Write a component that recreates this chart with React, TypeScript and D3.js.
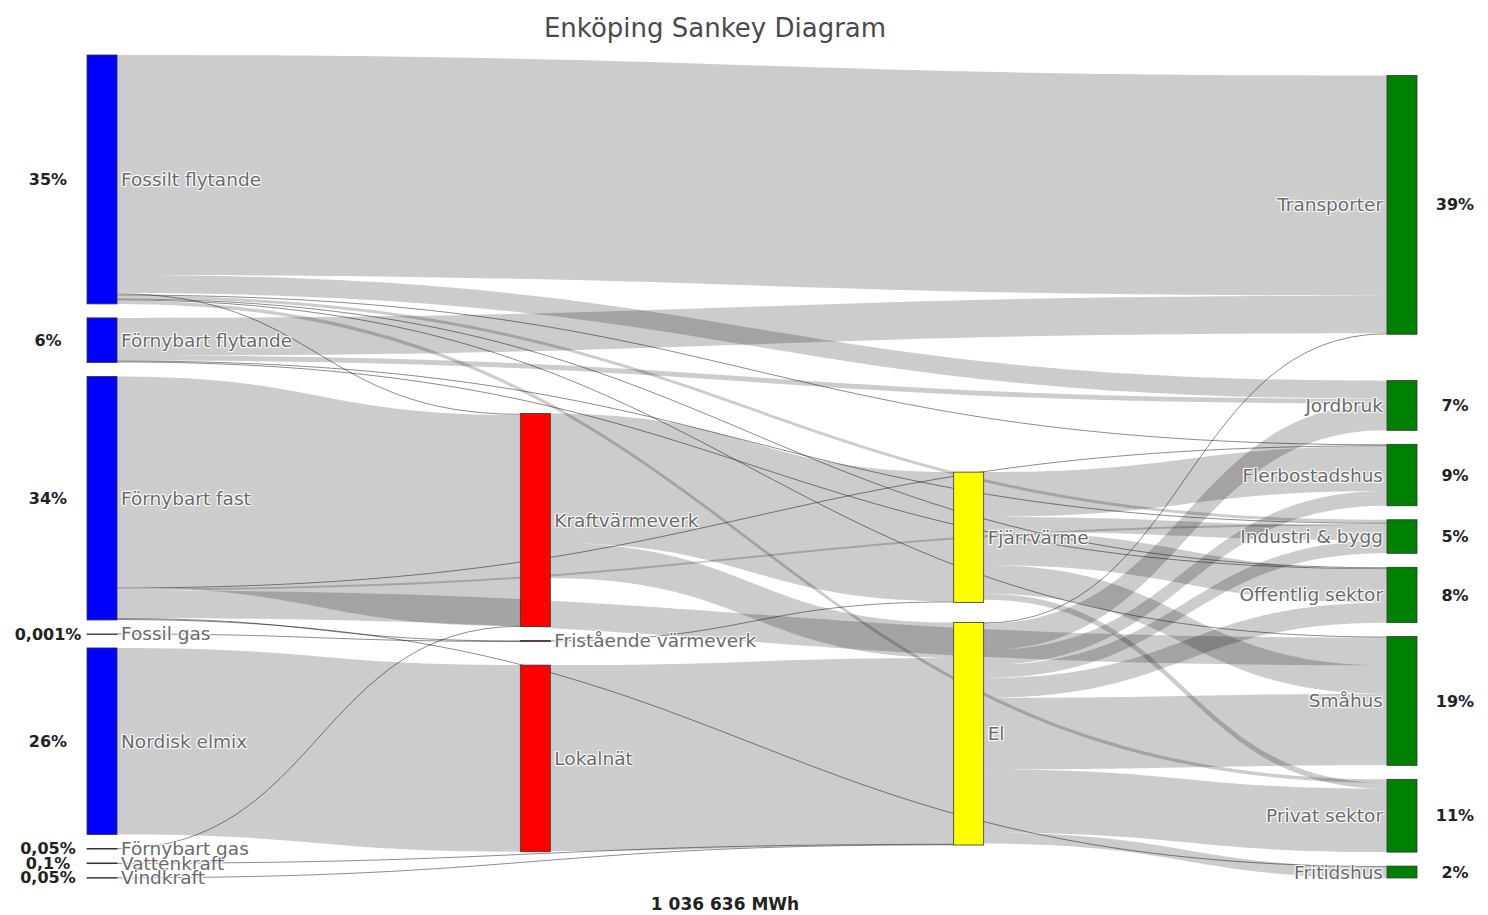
import React from 'react';
import * as d3 from 'd3';

const W = 1488;
const H = 915;

const TITLE = 'Enköping Sankey Diagram';
const TOTAL_LABEL = '1 036 636 MWh';

// nodes, in plotly input order (column order comes from the flows)
const nodeNames = [
  'Fossilt flytande', 'Förnybart flytande', 'Förnybart fast', 'Fossil gas',
  'Nordisk elmix', 'Förnybart gas', 'Vattenkraft', 'Vindkraft',
  'Kraftvärmeverk', 'Fristående värmeverk', 'Lokalnät',
  'Fjärrvärme', 'El',
  'Transporter', 'Jordbruk', 'Flerbostadshus', 'Industri & bygg',
  'Offentlig sektor', 'Småhus', 'Privat sektor', 'Fritidshus',
];

const nodeColors = [
  'blue', 'blue', 'blue', 'blue', 'blue', 'blue', 'blue', 'blue',
  'red', 'red', 'red',
  'yellow', 'yellow',
  'green', 'green', 'green', 'green', 'green', 'green', 'green', 'green',
];

// share labels printed beside the supply / end use nodes
const nodeShares = [
  '35%', '6%', '34%', '0,001%', '26%', '0,05%', '0,1%', '0,05%',
  '', '', '',
  '', '',
  '39%', '7%', '9%', '5%', '8%', '19%', '11%', '2%',
];

// energy flows, GWh
const flows: [string, string, number][] = [
  ['Fossilt flytande', 'Transporter', 342],
  ['Fossilt flytande', 'Jordbruk', 28],
  ['Fossilt flytande', 'Kraftvärmeverk', 2.3],
  ['Fossilt flytande', 'Flerbostadshus', 1.5],
  ['Fossilt flytande', 'Industri & bygg', 4.6],
  ['Fossilt flytande', 'Offentlig sektor', 1.5],
  ['Fossilt flytande', 'Småhus', 1.5],
  ['Fossilt flytande', 'Privat sektor', 5.4],
  ['Förnybart flytande', 'Transporter', 58.5],
  ['Förnybart flytande', 'Jordbruk', 7.7],
  ['Förnybart flytande', 'Industri & bygg', 1.5],
  ['Förnybart flytande', 'Offentlig sektor', 1.5],
  ['Förnybart fast', 'Kraftvärmeverk', 328],
  ['Förnybart fast', 'Fristående värmeverk', 1.5],
  ['Förnybart fast', 'Småhus', 43],
  ['Förnybart fast', 'Industri & bygg', 3],
  ['Förnybart fast', 'Flerbostadshus', 1.5],
  ['Förnybart fast', 'Fritidshus', 1.5],
  ['Fossil gas', 'Fristående värmeverk', 0.011],
  ['Nordisk elmix', 'Lokalnät', 290],
  ['Förnybart gas', 'Kraftvärmeverk', 0.56],
  ['Vattenkraft', 'El', 1.1],
  ['Vindkraft', 'El', 0.56],
  ['Kraftvärmeverk', 'Fjärrvärme', 201],
  ['Kraftvärmeverk', 'El', 55],
  ['Fristående värmeverk', 'Fjärrvärme', 1.4],
  ['Lokalnät', 'El', 289],
  ['Fjärrvärme', 'Flerbostadshus', 69.5],
  ['Fjärrvärme', 'Industri & bygg', 23],
  ['Fjärrvärme', 'Offentlig sektor', 52],
  ['Fjärrvärme', 'Småhus', 44.5],
  ['Fjärrvärme', 'Privat sektor', 9.2],
  ['El', 'Transporter', 1.5],
  ['El', 'Jordbruk', 41.5],
  ['El', 'Flerbostadshus', 23],
  ['El', 'Industri & bygg', 20],
  ['El', 'Offentlig sektor', 31],
  ['El', 'Småhus', 111],
  ['El', 'Privat sektor', 98.5],
  ['El', 'Fritidshus', 17],
];

type SNode = {
  name: string; index: number; color: string; share: string;
  sourceLinks: SLink[]; targetLinks: SLink[];
  value: number; depth: number;
  x0: number; x1: number; y0: number; y1: number;
};
type SLink = { source: SNode; target: SNode; value: number; width: number; y0: number; y1: number };

// small port of the d3-sankey (0.7) layout that plotly uses, keeping input order in each column
function sankeyLayout(ext: [[number, number], [number, number]], dx: number, py: number, iterations: number) {
  const [[x0, y0], [x1, y1]] = ext;
  const nodes: SNode[] = nodeNames.map((name, i) => ({
    name, index: i, color: nodeColors[i], share: nodeShares[i],
    sourceLinks: [], targetLinks: [], value: 0, depth: 0, x0: 0, x1: 0, y0: 0, y1: 0,
  }));
  const byName = new Map(nodes.map(n => [n.name, n]));
  const links: SLink[] = flows.map(([s, t, v]) => {
    const link = { source: byName.get(s)!, target: byName.get(t)!, value: v, width: 0, y0: 0, y1: 0 };
    link.source.sourceLinks.push(link);
    link.target.targetLinks.push(link);
    return link;
  });

  nodes.forEach(n => {
    n.value = Math.max(d3.sum(n.sourceLinks, l => l.value), d3.sum(n.targetLinks, l => l.value));
  });

  // depths (longest path), sinks justified to the last column
  let current = nodes, next: SNode[] = [], x = 0;
  for (; current.length; ++x, current = next, next = []) {
    current.forEach(node => {
      node.depth = x;
      node.sourceLinks.forEach(l => { if (next.indexOf(l.target) < 0) next.push(l.target); });
    });
  }
  const xScale = d3.scaleLinear().domain([0, x - 1]).range([x0, x1 - dx]);
  nodes.forEach(node => {
    const d = node.sourceLinks.length ? node.depth : x - 1;
    node.x0 = xScale(d);
    node.x1 = node.x0 + dx;
  });

  const columns = d3.groups(nodes, n => n.x0).sort((a, b) => a[0] - b[0]).map(g => g[1]);

  const ky = d3.min(columns, col => (y1 - y0 - (col.length - 1) * py) / d3.sum(col, n => n.value))!;
  columns.forEach(col => col.forEach((node, i) => { node.y0 = i; node.y1 = i + node.value * ky; }));
  links.forEach(l => { l.width = l.value * ky; });

  const center = (n: SNode) => (n.y0 + n.y1) / 2;

  const resolveCollisions = () => {
    columns.forEach(col => {
      let y = y0, node: SNode = col[0], dy: number;
      col.sort((a, b) => a.index - b.index);
      for (let i = 0; i < col.length; ++i) {
        node = col[i];
        dy = y - node.y0;
        if (dy > 0) { node.y0 += dy; node.y1 += dy; }
        y = node.y1 + py;
      }
      dy = y - py - y1;
      if (dy > 0) {
        y = (node.y0 -= dy); node.y1 -= dy;
        for (let i = col.length - 2; i >= 0; --i) {
          node = col[i];
          dy = node.y1 + py - y;
          if (dy > 0) { node.y0 -= dy; node.y1 -= dy; }
          y = node.y0;
        }
      }
    });
  };

  const relaxLeftToRight = (alpha: number) => {
    columns.forEach(col => col.forEach(node => {
      if (node.targetLinks.length) {
        const dy = (d3.sum(node.targetLinks, l => center(l.source) * l.value) / d3.sum(node.targetLinks, l => l.value) - center(node)) * alpha;
        node.y0 += dy; node.y1 += dy;
      }
    }));
  };
  const relaxRightToLeft = (alpha: number) => {
    columns.slice().reverse().forEach(col => col.forEach(node => {
      if (node.sourceLinks.length) {
        const dy = (d3.sum(node.sourceLinks, l => center(l.target) * l.value) / d3.sum(node.sourceLinks, l => l.value) - center(node)) * alpha;
        node.y0 += dy; node.y1 += dy;
      }
    }));
  };

  resolveCollisions();
  for (let alpha = 1, n = iterations; n > 0; --n) {
    relaxRightToLeft(alpha *= 0.99);
    resolveCollisions();
    relaxLeftToRight(alpha);
    resolveCollisions();
  }

  nodes.forEach(node => {
    node.sourceLinks.sort((a, b) => a.target.y0 - b.target.y0);
    node.targetLinks.sort((a, b) => a.source.y0 - b.source.y0);
  });
  nodes.forEach(node => {
    let ys = node.y0, yt = node.y0;
    node.sourceLinks.forEach(l => { l.y0 = ys + l.width / 2; ys += l.width; });
    node.targetLinks.forEach(l => { l.y1 = yt + l.width / 2; yt += l.width; });
  });

  return { nodes, links };
}

function ribbon(l: SLink) {
  const xs = l.source.x1, xt = l.target.x0;
  const xm = d3.interpolateNumber(xs, xt)(0.5);
  const h = l.width / 2;
  const p = d3.path();
  p.moveTo(xs, l.y0 - h);
  p.bezierCurveTo(xm, l.y0 - h, xm, l.y1 - h, xt, l.y1 - h);
  p.lineTo(xt, l.y1 + h);
  p.bezierCurveTo(xm, l.y1 + h, xm, l.y0 + h, xs, l.y0 + h);
  p.closePath();
  return p.toString();
}

function centerLine(l: SLink) {
  const xs = l.source.x1, xt = l.target.x0;
  const xm = d3.interpolateNumber(xs, xt)(0.5);
  const p = d3.path();
  p.moveTo(xs, l.y0);
  p.bezierCurveTo(xm, l.y0, xm, l.y1, xt, l.y1);
  return p.toString();
}

const labelShadow = '1px 1px 1px #fff, -1px -1px 1px #fff, 1px -1px 1px #fff, -1px 1px 1px #fff';

export default function App() {
  const { nodes, links } = sankeyLayout([[87, 55], [1417, 878]], 30, 14, 50);
  const lastX = d3.max(nodes, n => n.x0)!;

  return (
    <svg width={W} height={H} style={{ position: 'absolute', left: 0, top: 0, background: '#fff' }}
      fontFamily="'DejaVu Sans', Verdana, sans-serif">
      <text x={715} y={37} textAnchor="middle" fontSize={26} fill="#4a4a4a">{TITLE}</text>

      <g>
        {links.map((l, i) => l.width >= 1.5
          ? <path key={i} d={ribbon(l)} fill="rgba(0,0,0,0.2)" />
          : <path key={i} d={centerLine(l)} fill="none" stroke="rgba(0,0,0,0.45)" strokeWidth={1} />)}
      </g>

      <g>
        {nodes.map(n => (
          <rect key={n.name} x={n.x0} y={n.y0} width={n.x1 - n.x0} height={Math.max(n.y1 - n.y0, 0.5)}
            fill={n.color} stroke="#333" strokeWidth={0.8} />
        ))}
      </g>

      <g fontSize={18.5} fill="#6a6a6a" style={{ textShadow: labelShadow }}>
        {nodes.map(n => {
          const right = n.x0 === lastX;
          return (
            <text key={n.name} x={right ? n.x0 - 4 : n.x1 + 4} y={(n.y0 + n.y1) / 2} dy="0.35em"
              textAnchor={right ? 'end' : 'start'}>{n.name}</text>
          );
        })}
      </g>

      <g fontSize={16} fontWeight="bold" fill="#222" textAnchor="middle">
        {nodes.filter(n => n.share).map(n => (
          <text key={n.name} x={n.x0 === lastX ? n.x1 + 38 : n.x0 - 39} y={(n.y0 + n.y1) / 2} dy="0.35em">{n.share}</text>
        ))}
      </g>

      <text x={725} y={910} textAnchor="middle" fontSize={17} fontWeight="bold" fill="#222">{TOTAL_LABEL}</text>
    </svg>
  );
}
